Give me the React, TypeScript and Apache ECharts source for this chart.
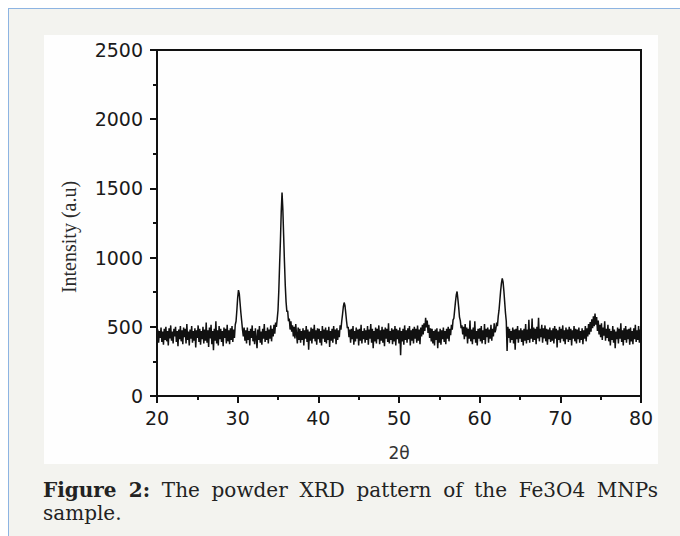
import React, { useEffect, useRef } from "react";
import * as echarts from "echarts";

// Scan grid: 2θ from 20° to 80° in 0.1° steps
const angleStart = 20;
const angleStep = 0.1;

// Intensity readings (a.u), one list per 10° of the scan
const scan20to30 = [
  410, 480, 385, 470, 420, 495, 390, 465, 370, 485,
  405, 500, 395, 470, 365, 490, 415, 510, 400, 465,
  380, 485, 430, 500, 390, 470, 360, 480, 410, 505,
  395, 475, 375, 495, 425, 485, 380, 520, 405, 465,
  365, 480, 415, 505, 385, 470, 400, 490, 350, 475,
  420, 510, 390, 485, 370, 470, 410, 500, 380, 480,
  400, 530, 385, 475, 355, 495, 415, 515, 375, 470,
  330, 485, 400, 540, 380, 475, 365, 505, 410, 485,
  390, 470, 360, 495, 420, 485, 380, 515, 395, 475,
  375, 490, 405, 505, 390, 480, 420, 515, 540, 620,
];
const scan30to40 = [
  710, 765, 740, 670, 600, 540, 480, 430, 495, 400,
  475, 380, 495, 405, 470, 365, 485, 420, 510, 395,
  470, 375, 490, 415, 345, 480, 405, 505, 385, 465,
  370, 485, 415, 520, 390, 470, 405, 495, 380, 480,
  415, 510, 395, 485, 430, 515, 450, 530, 500, 555,
  620, 760, 950, 1120, 1330, 1470, 1350, 1160, 970, 800,
  680, 610, 615, 540, 560, 480, 540, 465, 510, 430,
  500, 415, 520, 445, 380, 495, 405, 485, 385, 470,
  405, 490, 365, 475, 415, 505, 390, 480, 335, 465,
  400, 495, 380, 485, 415, 515, 395, 475, 370, 490,
];
const scan40to50 = [
  410, 485, 385, 470, 365, 505, 415, 480, 390, 495,
  380, 475, 405, 500, 355, 470, 400, 485, 385, 505,
  415, 480, 375, 490, 405, 475, 425, 510, 480, 540,
  590, 645, 675, 655, 600, 540, 490, 500, 425, 480,
  385, 485, 410, 505, 370, 470, 395, 495, 415, 480,
  365, 485, 400, 515, 380, 470, 410, 490, 385, 475,
  405, 505, 370, 480, 415, 520, 385, 485, 345, 470,
  395, 495, 380, 485, 410, 510, 375, 475, 400, 500,
  385, 480, 360, 495, 415, 485, 390, 525, 380, 470,
  405, 490, 375, 480, 395, 505, 365, 485, 410, 475,
];
const scan50to60 = [
  380, 495, 295, 470, 395, 485, 370, 510, 405, 475,
  385, 490, 410, 505, 365, 475, 400, 485, 380, 500,
  415, 485, 385, 510, 400, 480, 375, 495, 430, 515,
  445, 525, 470, 565, 495, 545, 455, 515, 420, 490,
  395, 485, 380, 470, 365, 480, 405, 490, 345, 465,
  385, 485, 370, 475, 410, 495, 390, 470, 375, 485,
  415, 500, 395, 485, 440, 515, 480, 550, 560, 620,
  680, 730, 755, 700, 640, 570, 545, 490, 510, 445,
  500, 410, 520, 430, 495, 380, 485, 415, 545, 395,
  480, 375, 495, 410, 540, 385, 470, 365, 485, 415,
];
const scan60to70 = [
  490, 395, 505, 380, 475, 405, 520, 375, 485, 425,
  495, 385, 480, 415, 515, 400, 485, 430, 525, 460,
  480, 530, 505, 575, 620, 690, 760, 815, 850, 825,
  760, 680, 600, 540, 325, 500, 420, 485, 385, 470,
  405, 495, 380, 480, 335, 485, 410, 505, 385, 475,
  415, 490, 390, 475, 365, 485, 400, 520, 380, 480,
  405, 550, 385, 485, 415, 560, 390, 495, 405, 485,
  375, 500, 415, 565, 395, 485, 425, 515, 385, 490,
  415, 510, 395, 485, 370, 480, 410, 495, 390, 475,
  400, 490, 380, 505, 415, 485, 350, 475, 405, 500,
];
const scan70to80 = [
  385, 485, 415, 510, 395, 475, 375, 495, 410, 480,
  390, 500, 405, 485, 365, 475, 415, 505, 395, 485,
  380, 480, 410, 495, 385, 470, 405, 490, 375, 475,
  415, 505, 395, 490, 430, 520, 445, 535, 465, 555,
  490, 575, 505, 595, 515, 570, 470, 545, 445, 515,
  425, 525, 405, 495, 435, 540, 400, 485, 420, 515,
  395, 485, 365, 470, 405, 505, 385, 480, 345, 465,
  410, 495, 380, 485, 415, 525, 390, 475, 365, 490,
  405, 505, 385, 480, 410, 485, 370, 495, 395, 470,
  375, 490, 410, 515, 390, 475, 405, 505, 385, 480,
];
const scanEnd = [430];

// Axis settings and texts
const xRange = { min: 20, max: 80, interval: 10 };
const yRange = { min: 0, max: 2500, interval: 500 };
const xAxisTitle = "2θ";
const yAxisTitle = "Intensity (a.u)";
const captionLabel = "Figure 2:";
const captionLine1 = " The powder XRD pattern of the Fe3O4 MNPs";
const captionLine2 = "sample.";

const intensity = [
  ...scan20to30,
  ...scan30to40,
  ...scan40to50,
  ...scan50to60,
  ...scan60to70,
  ...scan70to80,
  ...scanEnd,
];

function Chart() {
  const ref = useRef<HTMLDivElement>(null);
  useEffect(() => {
    if (!ref.current) return;
    const chart = echarts.init(ref.current, undefined, { renderer: "svg" });
    const data = intensity.map((v, i) => [
      Math.round((angleStart + i * angleStep) * 10) / 10,
      v,
    ]);
    const tickFont = {
      fontFamily: "DejaVu Sans",
      fontSize: 19,
      color: "#1a1a1a",
      formatter: (v: number) => String(v),
    };
    const tickStyle = { color: "#111", width: 2 };
    chart.setOption({
      animation: false,
      backgroundColor: "#fefefe",
      grid: {
        left: 113,
        right: 17,
        top: 15,
        bottom: 68,
        show: true,
        borderColor: "#111",
        borderWidth: 2,
        backgroundColor: "transparent",
      },
      xAxis: {
        type: "value",
        min: xRange.min,
        max: xRange.max,
        interval: xRange.interval,
        axisLine: { show: true, onZero: false, lineStyle: tickStyle },
        axisTick: { show: true, inside: false, length: 7, lineStyle: tickStyle },
        minorTick: { show: true, splitNumber: 2, length: 4, lineStyle: tickStyle },
        splitLine: { show: false },
        axisLabel: { ...tickFont, margin: 12 },
      },
      yAxis: {
        type: "value",
        min: yRange.min,
        max: yRange.max,
        interval: yRange.interval,
        axisLine: { show: true, onZero: false, lineStyle: tickStyle },
        axisTick: { show: true, inside: false, length: 7, lineStyle: tickStyle },
        minorTick: { show: true, splitNumber: 2, length: 4, lineStyle: tickStyle },
        splitLine: { show: false },
        axisLabel: { ...tickFont, margin: 14 },
      },
      graphic: [
        {
          type: "text",
          x: 25,
          y: 202,
          rotation: Math.PI / 2,
          style: {
            text: yAxisTitle,
            fontFamily: "Liberation Serif",
            fontSize: 20,
            fill: "#2a2a2a",
            align: "center",
            verticalAlign: "middle",
          },
        },
        {
          type: "text",
          x: 355,
          y: 418,
          style: {
            text: xAxisTitle,
            fontFamily: "DejaVu Sans",
            fontSize: 17,
            fill: "#333",
            align: "center",
            verticalAlign: "middle",
          },
        },
      ],
      series: [
        {
          type: "line",
          data,
          showSymbol: false,
          symbol: "none",
          lineStyle: { color: "#111", width: 1.5 },
          silent: true,
        },
      ],
    });
    return () => chart.dispose();
  }, []);
  return <div ref={ref} style={{ width: 614, height: 429 }} />;
}

const captionStyle: React.CSSProperties = {
  position: "absolute",
  left: 34,
  width: 615,
  fontFamily: '"DejaVu Serif", serif',
  fontSize: 20,
  lineHeight: "23px",
  color: "#222",
  whiteSpace: "nowrap",
};

export default function App() {
  return (
    <div
      style={{
        position: "fixed",
        left: 8,
        top: 8,
        width: 672,
        height: 528,
        boxSizing: "border-box",
        borderTop: "1px solid #8db4e2",
        borderLeft: "1px solid #8db4e2",
        background: "#f3f3ef",
      }}
    >
      <div style={{ position: "absolute", left: 35, top: 26, width: 614, height: 429 }}>
        <Chart />
      </div>
      <div
        style={{
          ...captionStyle,
          top: 470,
          whiteSpace: "normal",
          textAlign: "justify",
          textAlignLast: "justify",
        }}
      >
        <b>{captionLabel}</b>
        {captionLine1}
      </div>
      <div style={{ ...captionStyle, top: 493 }}>{captionLine2}</div>
    </div>
  );
}
